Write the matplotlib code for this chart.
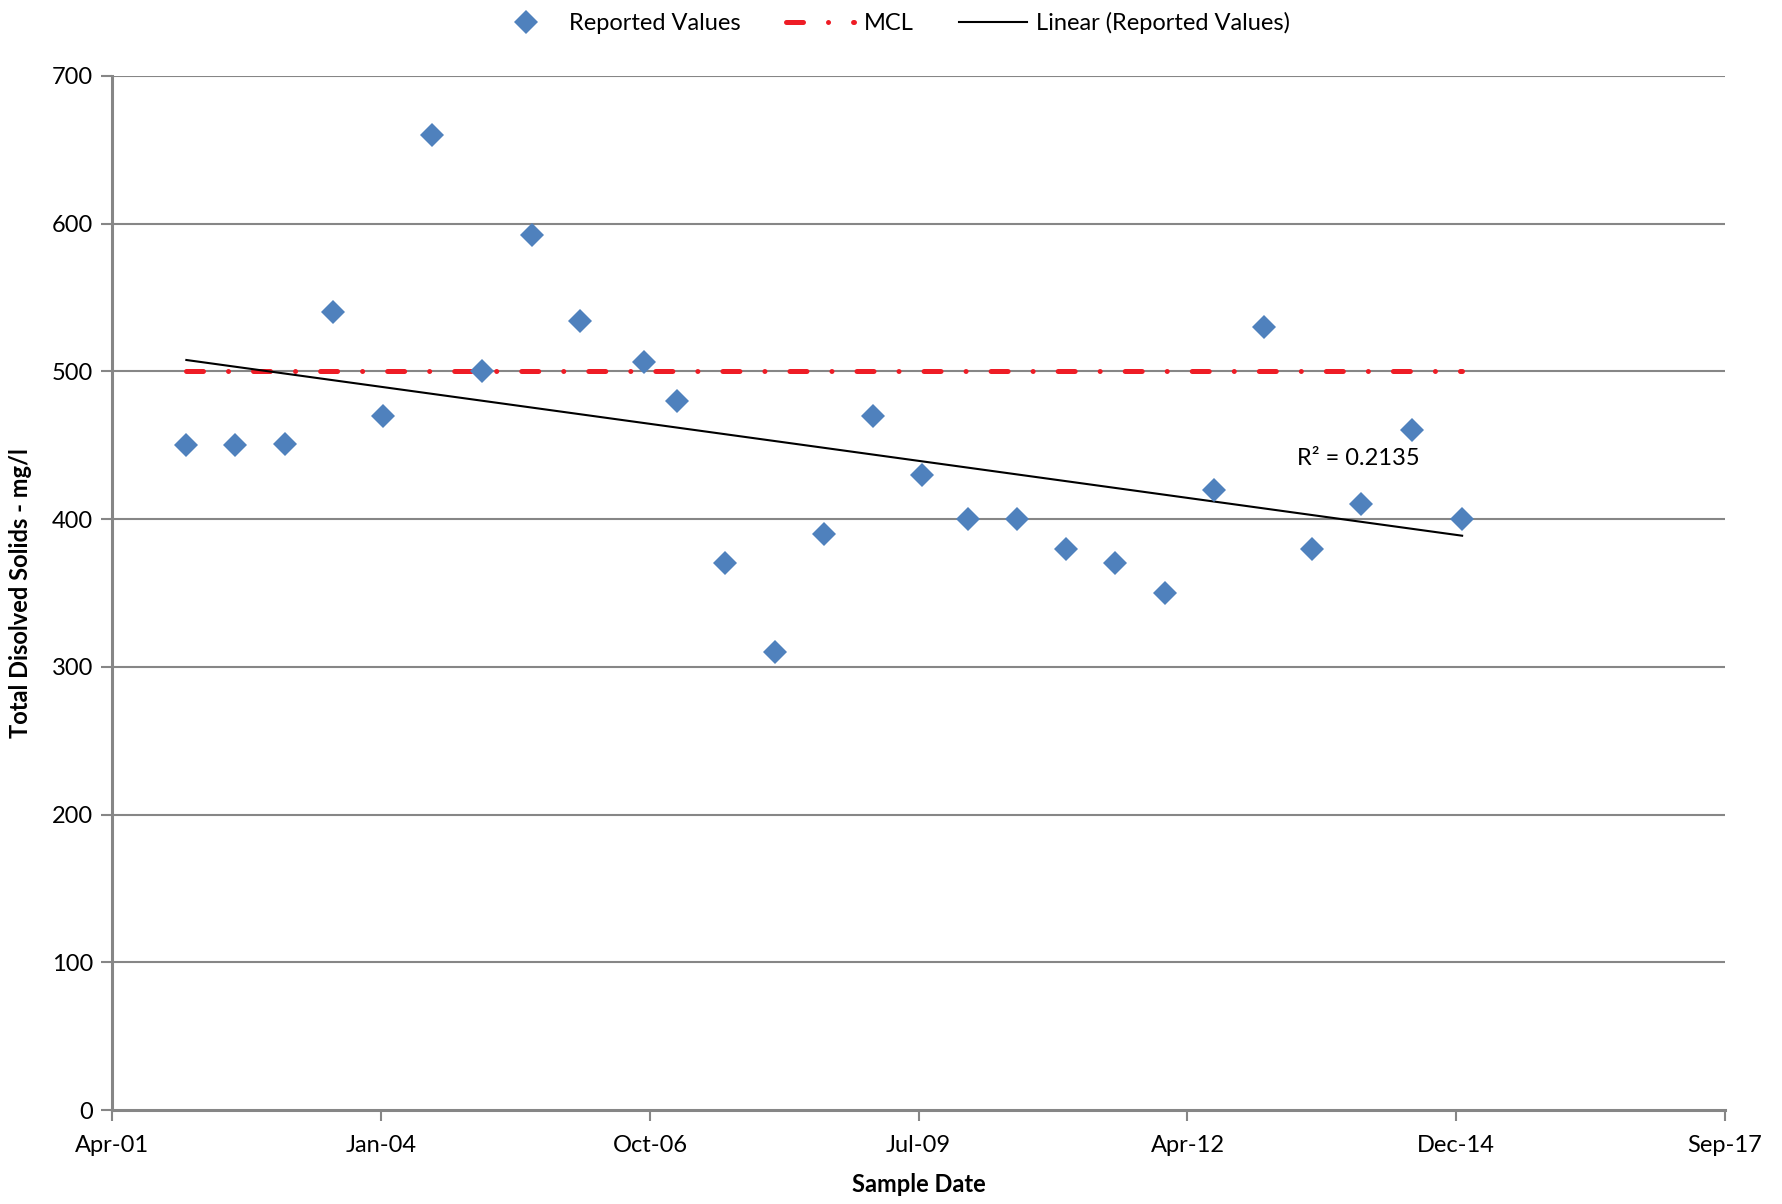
import numpy as np
import pandas as pd
import matplotlib
matplotlib.use('Agg')
import matplotlib.pyplot as plt
import matplotlib.dates as mdates

plt.rcParams['font.family'] = ['Lato', 'DejaVu Sans']

sample_dates = ['2002-01-19', '2002-07-20', '2003-01-22', '2003-07-18', '2004-01-20',
                '2004-07-20', '2005-01-22', '2005-07-27', '2006-01-21', '2006-09-19',
                '2007-01-19', '2007-07-16', '2008-01-18', '2008-07-18', '2009-01-16',
                '2009-07-17', '2010-01-06', '2010-07-07', '2011-01-05', '2011-07-05',
                '2012-01-07', '2012-07-07', '2013-01-09', '2013-07-10', '2014-01-08',
                '2014-07-17', '2015-01-18']
tds = [450, 450, 451, 540, 470, 660, 500, 592, 534, 506, 480, 370, 310, 390, 470,
       430, 400, 400, 380, 370, 350, 420, 530, 380, 410, 460, 400]
mcl = [500] * len(sample_dates)
r2_label = 'R² = 0.2135'

dates = pd.to_datetime(sample_dates)
x = mdates.date2num(dates)

# x axis ticks every 1000 days, spreadsheet style
tick_dates = pd.Timestamp('2001-04-19') + pd.to_timedelta(np.arange(0, 7000, 1000), 'D')
ticks = mdates.date2num(tick_dates)

fig = plt.figure(figsize=(17.82, 12.04), dpi=100)
ax = fig.add_axes([0.0631, 0.078, 0.9049, 0.859])

grid_col = '#868686'
for v in range(100, 701, 100):
    ax.axhline(v, color=grid_col, lw=1.5, zorder=1)

ax.plot(x, mcl, color='#EE1C25', lw=3.6, dashes=[3.4, 5, 0.01, 5],
        dash_capstyle='round', solid_capstyle='round', label='MCL', zorder=2)

# linear trend
p = np.polyfit(x, tds, 1)
ax.plot(x[[0, -1]], np.polyval(p, x[[0, -1]]), color='black', lw=1.5,
        label='Linear (Reported Values)', zorder=3)

ax.plot(x, tds, 'D', color='#4F81BD', markersize=12, markeredgewidth=0,
        label='Reported Values', zorder=4)

ax.text(mdates.date2num(pd.Timestamp('2013-05-12')), 441, r2_label, fontsize=17,
        va='center', ha='left')

ax.set_xlim(ticks[0], ticks[-1])
ax.set_ylim(0, 700)
ax.set_xticks(ticks)
ax.xaxis.set_major_formatter(mdates.DateFormatter('%b-%y'))
ax.set_yticks(range(0, 701, 100))

for s in ['top', 'right']:
    ax.spines[s].set_visible(False)
for s in ['left', 'bottom']:
    ax.spines[s].set_color(grid_col)
    ax.spines[s].set_linewidth(2.2)
ax.tick_params(axis='both', colors=grid_col, length=8, width=1.5, labelsize=17,
               labelcolor='black', pad=10)
ax.tick_params(axis='y', pad=6)

ax.set_xlabel('Sample Date', fontsize=17, fontweight='bold', labelpad=12)
ax.set_ylabel('Total Disolved Solids - mg/l', fontsize=17, fontweight='bold', labelpad=14)

h, l = ax.get_legend_handles_labels()
order = [2, 0, 1]
fig.legend([h[i] for i in order], [l[i] for i in order], loc='center',
           bbox_to_anchor=(0.5, 0.981), ncol=3, frameon=False, fontsize=17,
           handlelength=2.9, columnspacing=1.9, handletextpad=0.4)

fig.savefig('out.png', dpi=100)
